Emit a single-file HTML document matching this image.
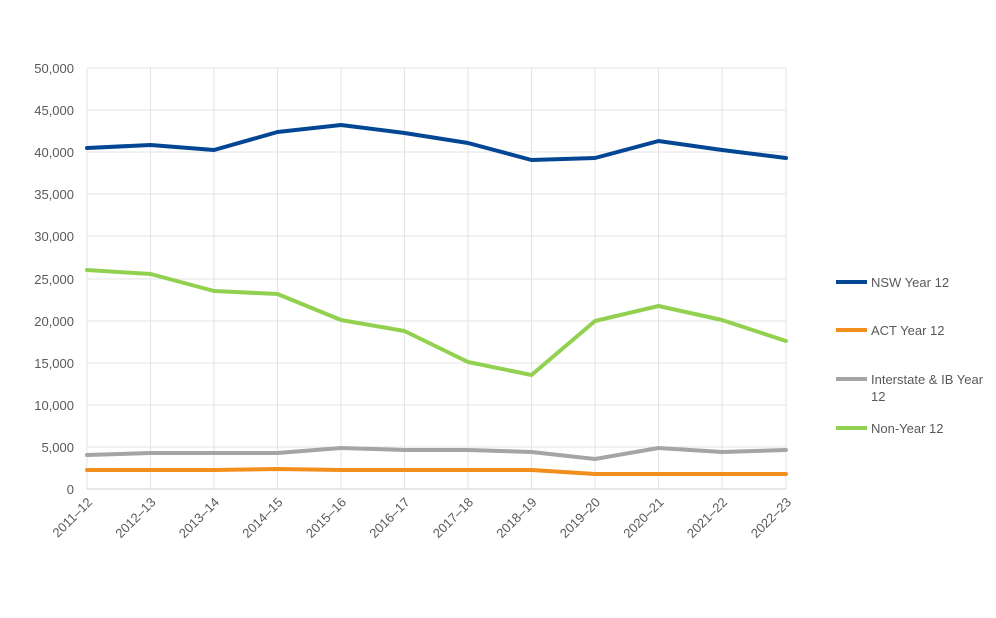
<!DOCTYPE html>
<html><head><meta charset="utf-8"><style>body{margin:0;background:#fff}svg{display:block}</style></head><body>
<svg width="996" height="618" xmlns="http://www.w3.org/2000/svg" font-family="Liberation Sans, sans-serif">
<g stroke="#e3e3e3" stroke-width="1">
<line x1="87" y1="68" x2="786" y2="68"/><line x1="87" y1="110" x2="786" y2="110"/><line x1="87" y1="152" x2="786" y2="152"/><line x1="87" y1="194" x2="786" y2="194"/><line x1="87" y1="236" x2="786" y2="236"/><line x1="87" y1="279" x2="786" y2="279"/><line x1="87" y1="321" x2="786" y2="321"/><line x1="87" y1="363" x2="786" y2="363"/><line x1="87" y1="405" x2="786" y2="405"/><line x1="87" y1="447" x2="786" y2="447"/>
<line x1="87" y1="68" x2="87" y2="489"/><line x1="150.5" y1="68" x2="150.5" y2="489"/><line x1="214" y1="68" x2="214" y2="489"/><line x1="277.5" y1="68" x2="277.5" y2="489"/><line x1="341" y1="68" x2="341" y2="489"/><line x1="404.5" y1="68" x2="404.5" y2="489"/><line x1="468" y1="68" x2="468" y2="489"/><line x1="531.5" y1="68" x2="531.5" y2="489"/><line x1="595" y1="68" x2="595" y2="489"/><line x1="658.5" y1="68" x2="658.5" y2="489"/><line x1="722" y1="68" x2="722" y2="489"/><line x1="786" y1="68" x2="786" y2="489"/>
</g>
<line x1="87" y1="489" x2="786" y2="489" stroke="#d0d0d0"/>
<g font-size="13" fill="#595959" text-anchor="end">
<text x="74" y="73">50,000</text><text x="74" y="115">45,000</text><text x="74" y="157">40,000</text><text x="74" y="199">35,000</text><text x="74" y="241">30,000</text><text x="74" y="284">25,000</text><text x="74" y="326">20,000</text><text x="74" y="368">15,000</text><text x="74" y="410">10,000</text><text x="74" y="452">5,000</text><text x="74" y="494">0</text>
</g>
<g font-size="13" fill="#595959" text-anchor="end">
<text transform="translate(93,503) rotate(-45)">2011–12</text>
<text transform="translate(156.5,503) rotate(-45)">2012–13</text>
<text transform="translate(220,503) rotate(-45)">2013–14</text>
<text transform="translate(283.5,503) rotate(-45)">2014–15</text>
<text transform="translate(347,503) rotate(-45)">2015–16</text>
<text transform="translate(410.5,503) rotate(-45)">2016–17</text>
<text transform="translate(474,503) rotate(-45)">2017–18</text>
<text transform="translate(537.5,503) rotate(-45)">2018–19</text>
<text transform="translate(601,503) rotate(-45)">2019–20</text>
<text transform="translate(664.5,503) rotate(-45)">2020–21</text>
<text transform="translate(728,503) rotate(-45)">2021–22</text>
<text transform="translate(792,503) rotate(-45)">2022–23</text>
</g>
<g fill="none" stroke-width="4" stroke-linejoin="round" stroke-linecap="round">
<polyline stroke="#a5a5a5" points="87,455 150.5,453 214,453 277.5,453 341,448 404.5,450 468,450 531.5,452 595,459 658.5,448 722,452 786,450"/>
<polyline stroke="#f28e1c" points="87,470 150.5,470 214,470 277.5,469 341,470 404.5,470 468,470 531.5,470 595,474 658.5,474 722,474 786,474"/>
<polyline stroke="#92d050" points="87,270 150.5,274 214,291 277.5,294 341,320 404.5,331 468,362 531.5,375 595,321 658.5,306 722,320 786,341"/>
<polyline stroke="#034694" points="87,148 150.5,145 214,150 277.5,132 341,125 404.5,133 468,143 531.5,160 595,158 658.5,141 722,150 786,158"/>
</g>
<g stroke-width="4">
<line x1="836" y1="282" x2="867" y2="282" stroke="#034694"/>
<line x1="836" y1="330" x2="867" y2="330" stroke="#f28e1c"/>
<line x1="836" y1="379" x2="867" y2="379" stroke="#a5a5a5"/>
<line x1="836" y1="428" x2="867" y2="428" stroke="#92d050"/>
</g>
<g font-size="13" fill="#595959">
<text x="871" y="287">NSW Year 12</text>
<text x="871" y="335">ACT Year 12</text>
<text x="871" y="384">Interstate &amp; IB Year</text>
<text x="871" y="401">12</text>
<text x="871" y="433">Non-Year 12</text>
</g>
</svg>
</body></html>
